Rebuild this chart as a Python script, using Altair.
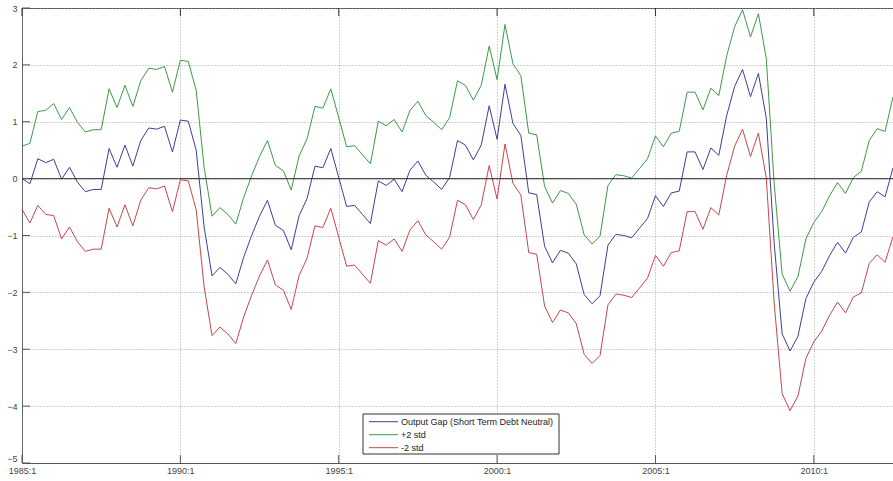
import altair as alt
import pandas as pd

# Quarterly observations starting 1985:1
START_YEAR = 1985

output_gap = [
    0.00, -0.09, 0.35, 0.28, 0.34, -0.01, 0.20, -0.06, -0.23, -0.19,
    -0.19, 0.53, 0.20, 0.59, 0.22, 0.67, 0.89, 0.87, 0.92, 0.47,
    1.03, 1.01, 0.50, -0.85, -1.71, -1.56, -1.68, -1.85, -1.38, -1.00,
    -0.66, -0.38, -0.82, -0.91, -1.25, -0.65, -0.35, 0.22, 0.19, 0.53,
    0.02, -0.49, -0.47, -0.63, -0.79, -0.04, -0.12, -0.01, -0.23, 0.15,
    0.31, 0.06, -0.06, -0.19, 0.02, 0.67, 0.59, 0.33, 0.59, 1.28,
    0.69, 1.66, 0.97, 0.76, -0.25, -0.28, -1.19, -1.48, -1.26, -1.31,
    -1.50, -2.04, -2.20, -2.06, -1.17, -0.98, -1.00, -1.04, -0.87, -0.70,
    -0.30, -0.49, -0.25, -0.22, 0.47, 0.47, 0.16, 0.54, 0.41, 1.11,
    1.62, 1.92, 1.44, 1.85, 1.06, -1.15, -2.73, -3.03, -2.77, -2.11,
    -1.82, -1.63, -1.35, -1.12, -1.31, -1.03, -0.94, -0.41, -0.23, -0.32,
    0.19,
]

upper_band = [
    0.57, 0.62, 1.18, 1.20, 1.32, 1.04, 1.25, 0.99, 0.82, 0.86,
    0.86, 1.58, 1.25, 1.64, 1.27, 1.72, 1.94, 1.92, 1.97, 1.52,
    2.08, 2.06, 1.55, 0.20, -0.66, -0.51, -0.63, -0.80, -0.33, 0.05,
    0.39, 0.67, 0.23, 0.14, -0.20, 0.40, 0.70, 1.27, 1.24, 1.58,
    1.07, 0.56, 0.58, 0.42, 0.26, 1.01, 0.93, 1.04, 0.82, 1.20,
    1.36, 1.11, 0.99, 0.86, 1.07, 1.72, 1.64, 1.38, 1.64, 2.33,
    1.74, 2.71, 2.02, 1.81, 0.80, 0.77, -0.14, -0.43, -0.21, -0.26,
    -0.45, -0.99, -1.15, -1.01, -0.12, 0.07, 0.05, 0.01, 0.18, 0.35,
    0.75, 0.56, 0.80, 0.83, 1.52, 1.52, 1.21, 1.59, 1.46, 2.16,
    2.67, 2.97, 2.49, 2.90, 2.11, -0.10, -1.68, -1.98, -1.72, -1.06,
    -0.77, -0.58, -0.30, -0.07, -0.26, 0.02, 0.13, 0.67, 0.88, 0.83,
    1.44,
]

lower_band = [
    -0.54, -0.78, -0.47, -0.63, -0.65, -1.06, -0.85, -1.11, -1.28, -1.24,
    -1.24, -0.52, -0.85, -0.46, -0.83, -0.38, -0.16, -0.18, -0.13, -0.58,
    -0.02, -0.04, -0.55, -1.90, -2.76, -2.61, -2.73, -2.90, -2.43, -2.05,
    -1.71, -1.43, -1.87, -1.96, -2.30, -1.70, -1.40, -0.83, -0.86, -0.52,
    -1.03, -1.54, -1.52, -1.68, -1.84, -1.09, -1.17, -1.06, -1.28, -0.90,
    -0.74, -0.99, -1.11, -1.24, -1.03, -0.38, -0.46, -0.72, -0.46, 0.23,
    -0.36, 0.61, -0.08, -0.29, -1.30, -1.33, -2.24, -2.53, -2.31, -2.36,
    -2.55, -3.09, -3.25, -3.11, -2.22, -2.03, -2.05, -2.09, -1.92, -1.75,
    -1.35, -1.54, -1.30, -1.27, -0.58, -0.58, -0.89, -0.51, -0.64, 0.06,
    0.57, 0.87, 0.39, 0.80, 0.01, -2.20, -3.78, -4.08, -3.82, -3.16,
    -2.87, -2.68, -2.40, -2.17, -2.36, -2.08, -2.01, -1.49, -1.34, -1.47,
    -1.02,
]

series_names = ["Output Gap (Short Term Debt Neutral)", "+2 std", "-2 std"]
series_colors = ["#3e3e96", "#3c9a46", "#c8464a"]

x_ticks = [0, 20, 40, 60, 80, 100]          # quarter index of 1985:1 ... 2010:1
y_ticks = [-5, -4, -3, -2, -1, 0, 1, 2, 3]

FONT = "Liberation Sans"
LABEL_SIZE = 9
X_DOMAIN = [0, 110]
Y_DOMAIN = [-5, 3]

rows = []
for name, values in zip(series_names, [output_gap, upper_band, lower_band]):
    for i, v in enumerate(values):
        rows.append({"q": i, "value": v, "series": name})
df = pd.DataFrame(rows)

x_scale = alt.Scale(domain=X_DOMAIN, nice=False, zero=False)
y_scale = alt.Scale(domain=Y_DOMAIN, nice=False, zero=False)

label_expr = f"({START_YEAR} + floor(datum.value / 4)) + ':' + (datum.value % 4 + 1)"

x_axis = alt.Axis(values=x_ticks, labelExpr=label_expr, grid=True,
                  gridDash=[1, 2], gridColor="#a0a0a0", ticks=False,
                  domainColor="#555", labelFont=FONT, labelFontSize=LABEL_SIZE,
                  labelColor="#444", labelPadding=3, labelFlush=False,
                  title=None)
y_axis = alt.Axis(values=y_ticks, grid=True, gridDash=[1, 2],
                  gridColor="#a0a0a0", ticks=False, domainColor="#666",
                  labelFont=FONT, labelFontSize=LABEL_SIZE, labelColor="#444",
                  labelPadding=5, labelFlush=False, title=None,
                  labelBaseline={"condition": {"test": "datum.value === -5",
                                               "value": "bottom"},
                                 "value": "middle"})


def xq(field="q"):
    return alt.X(f"{field}:Q", scale=x_scale, axis=x_axis, title=None)


def yq(field="value"):
    return alt.Y(f"{field}:Q", scale=y_scale, axis=y_axis, title=None)


lines = alt.Chart(df).mark_line(strokeWidth=1).encode(
    x=xq(),
    y=yq(),
    color=alt.Color("series:N",
                    scale=alt.Scale(domain=series_names, range=series_colors),
                    legend=None),
    order=alt.Order("q:Q"),
)

zero_line = alt.Chart(pd.DataFrame({"value": [0]})).mark_rule(
    color="#333", strokeWidth=1
).encode(y=yq())

# inward tick marks on left, bottom and top edges
tick_color = "#555"
y_tick_marks = alt.Chart(pd.DataFrame({"value": y_ticks})).mark_rule(
    color=tick_color
).encode(y=yq(), x=alt.value(0), x2=alt.value(8))
x_tick_bottom = alt.Chart(pd.DataFrame({"q": x_ticks})).mark_rule(
    color=tick_color
).encode(x=xq(), y=alt.value(455), y2=alt.value(447))
x_tick_top = alt.Chart(pd.DataFrame({"q": x_ticks})).mark_rule(
    color="#333"
).encode(x=xq(), y=alt.value(0), y2=alt.value(8))

# legend box in the lower middle of the plot
box_left, box_right, box_top, box_bottom = 341, 537, 406, 446
legend_layers = [
    alt.Chart(pd.DataFrame({"b": [0]})).mark_rect(
        fill="white", stroke="#333", strokeWidth=1
    ).encode(x=alt.value(box_left), x2=alt.value(box_right),
             y=alt.value(box_top), y2=alt.value(box_bottom))
]
for k, (name, color) in enumerate(zip(series_names, series_colors)):
    row_y = 413.7 + k * 13
    legend_layers.append(
        alt.Chart(pd.DataFrame({"label": [name]})).mark_rule(
            color=color, strokeWidth=1
        ).encode(x=alt.value(347), x2=alt.value(376), y=alt.value(row_y))
    )
    legend_layers.append(
        alt.Chart(pd.DataFrame({"label": [name]})).mark_text(
            align="left", baseline="middle", font=FONT, fontSize=LABEL_SIZE,
            color="#222"
        ).encode(text="label:N", x=alt.value(379), y=alt.value(row_y))
    )

chart = alt.layer(
    lines, zero_line, y_tick_marks, x_tick_bottom, x_tick_top, *legend_layers
).properties(
    width=871,
    height=455,
    autosize=alt.AutoSizeParams(type="none"),
    padding={"left": 22, "top": 8, "right": 0, "bottom": 18},
    background="white",
).configure_view(
    stroke="#444", strokeWidth=1
)

chart.save("out.html", embed_options={"renderer": "svg", "actions": False})
